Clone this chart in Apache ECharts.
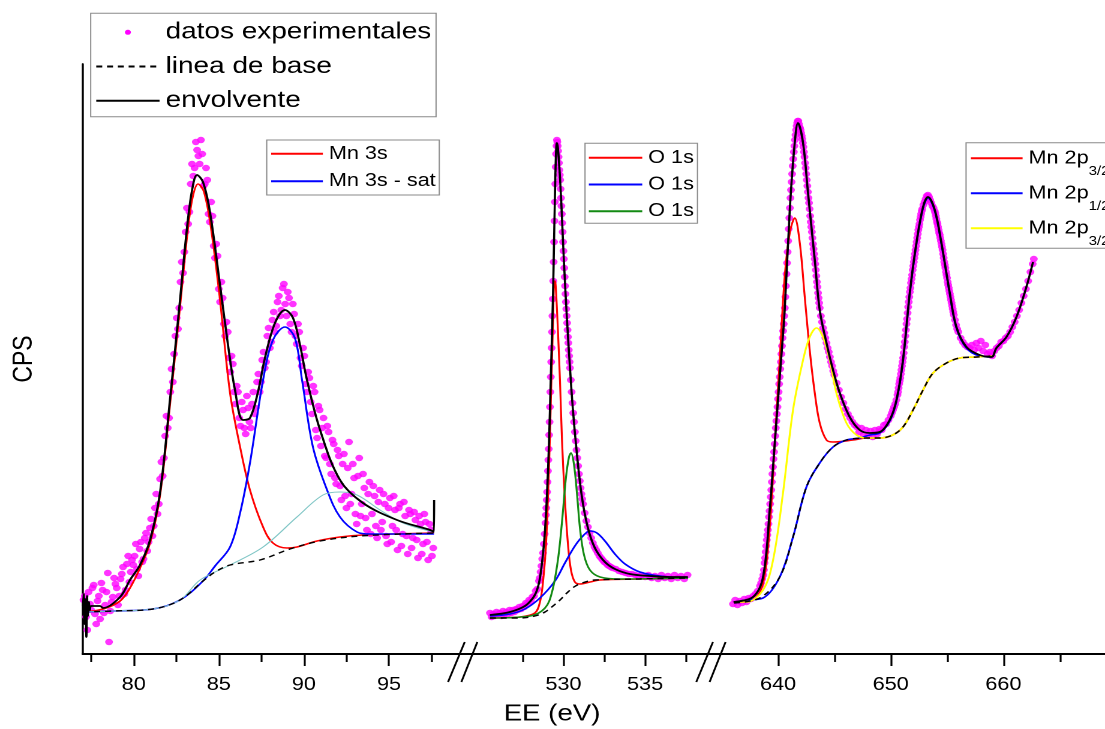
<!DOCTYPE html>
<html>
<head>
<meta charset="utf-8">
<script src="https://cdn.jsdelivr.net/npm/echarts@6/dist/echarts.min.js"></script>
<style>
  html, body { margin: 0; padding: 0; background: #fff; overflow: hidden; }
  /* the figure is laid out on a 921 px wide canvas and shown 1105 px wide */
  #main { width: 921px; height: 729px; transform: scaleX(1.19978); transform-origin: 0 0; }
</style>
</head>
<body>
<div id="main"></div>
<script>
// ---------- Mn 3s region (binding energy eV, counts) ----------
const mn3sExp = [[77.05,54],[77.2,37],[77.35,62],[77.5,44],[77.65,69],[77.8,30],[77.95,58],[78.1,71],[78.25,41],[78.4,62],[78.55,12],[78.7,52],[78.85,76],[79.0,66],[79.15,58],[79.3,80],[79.45,60],[79.6,90],[79.75,72],[79.9,94],[80.05,98],[80.2,85],[80.35,105],[80.5,92],[80.65,116],[80.8,103],[80.95,126],[81.1,118],[81.25,146],[81.4,140],[81.55,175],[81.7,178],[81.85,218],[82.0,226],[82.15,262],[82.3,272],[82.45,318],[82.6,325],[82.75,372],[82.9,381],[83.05,422],[83.2,430],[83.35,470],[83.5,478],[83.65,512],[83.8,498],[83.95,514],[84.1,468],[84.25,486],[84.4,440],[84.55,452],[84.7,408],[84.85,410],[85.0,365],[85.15,372],[85.3,330],[85.45,332],[85.6,296],[85.75,298],[85.9,262],[86.05,268],[86.2,236],[86.35,252],[86.5,226],[86.65,258],[86.8,232],[86.95,250],[87.1,240],[87.25,272],[87.4,262],[87.55,294],[87.7,286],[87.85,318],[88.0,306],[88.15,334],[88.3,322],[88.45,352],[88.6,338],[88.75,366],[88.9,350],[89.05,362],[89.2,330],[89.35,350],[89.5,318],[89.65,330],[89.8,296],[89.95,306],[90.1,270],[90.25,282],[90.4,252],[90.55,268],[90.7,224],[90.85,248],[91.0,208],[91.15,236],[91.3,196],[91.45,222],[91.6,180],[91.75,210],[91.9,170],[92.05,198],[92.2,154],[92.35,200],[92.5,146],[92.65,212],[92.8,160],[92.95,176],[93.1,130],[93.25,196],[93.4,150],[93.55,166],[93.7,124],[93.85,172],[94.0,140],[94.15,158],[94.3,116],[94.45,164],[94.6,132],[94.75,150],[94.9,110],[95.05,156],[95.2,128],[95.35,144],[95.5,104],[95.65,150],[95.8,120],[95.95,138],[96.1,100],[96.25,140],[96.4,116],[96.55,134],[96.7,96],[96.85,130],[97.0,110],[97.15,132],[97.3,94],[97.45,124],[97.6,106]];
const mn3sExpB = [[77.125,58],[77.275,24],[77.425,50],[77.575,66],[77.725,40],[77.875,53],[78.025,35],[78.175,64],[78.325,49],[78.475,81],[78.625,43],[78.775,57],[78.925,70],[79.075,49],[79.225,75],[79.375,87],[79.525,64],[79.675,98],[79.825,82],[79.975,89],[80.125,110],[80.275,78],[80.425,112],[80.575,95],[80.725,121],[80.875,112],[81.025,135],[81.175,128],[81.325,160],[81.475,150],[81.625,192],[81.775,196],[81.925,238],[82.075,236],[82.225,285],[82.375,300],[82.525,336],[82.675,346],[82.825,392],[82.975,402],[83.125,446],[83.275,442],[83.425,490],[83.575,486],[83.725,504],[83.875,490],[84.025,500],[84.175,470],[84.325,474],[84.475,432],[84.625,438],[84.775,396],[84.925,398],[85.075,352],[85.225,356],[85.375,318],[85.525,322],[85.675,282],[85.825,290],[85.975,250],[86.125,262],[86.275,228],[86.425,244],[86.575,220],[86.725,246],[86.875,226],[87.025,262],[87.175,246],[87.325,280],[87.475,272],[87.625,302],[87.775,292],[87.925,326],[88.075,312],[88.225,342],[88.375,328],[88.525,358],[88.675,344],[88.825,370],[88.975,338],[89.125,356],[89.275,322],[89.425,340],[89.575,310],[89.725,322],[89.875,288],[90.025,298],[90.175,262],[90.325,276],[90.475,240],[90.625,262],[90.775,216],[90.925,244],[91.075,226],[91.225,198],[91.375,228],[91.525,190],[91.675,214],[91.825,176],[91.975,204],[92.125,168],[92.275,190],[92.425,158],[92.575,186],[92.725,150],[92.875,190],[93.025,140],[93.175,178],[93.325,138],[93.475,180],[93.625,136],[93.775,160],[93.925,120],[94.075,168],[94.225,128],[94.375,152],[94.525,124],[94.675,160],[94.825,118],[94.975,146],[95.125,112],[95.275,158],[95.425,124],[95.575,146],[95.725,108],[95.875,152],[96.025,118],[96.175,144],[96.325,106],[96.475,142],[96.625,114],[96.775,138],[96.925,100],[97.075,140],[97.225,112],[97.375,130],[97.525,98]];
const mn3sEnvelope = [[77.02,48],[77.06,60],[77.1,30],[77.14,55],[77.18,40],[77.22,17],[77.26,58],[77.3,38],[77.36,52],[77.42,44],[77.5,48],[78.02,48],[78.2,46],[79.2,57],[79.78,74],[80.37,89],[80.96,114],[81.55,162],[82.13,254],[82.72,354],[83.13,426],[83.43,464],[83.72,479],[84.07,472],[84.48,442],[85.07,369],[85.54,309],[85.95,264],[86.42,234],[86.83,236],[87.3,262],[87.71,296],[88.3,331],[88.89,344],[89.36,336],[89.77,309],[90.18,274],[90.95,224],[92.12,174],[93.47,151],[95.47,134],[97.41,124],[97.64,122],[97.65,154]];
const mn3sBase = [[77.05,42],[78.78,43],[81.13,45],[82.72,54],[84.07,73],[84.78,82],[85.66,89],[87.42,94],[89.18,105],[90.95,113],[93.3,118],[97.64,121]];
const mn3sMain = [[77.05,42],[78.2,45],[79.2,53],[79.78,66],[80.37,86],[80.96,111],[81.55,159],[82.13,249],[82.72,347],[83.19,426],[83.48,458],[83.78,470],[84.13,462],[84.54,426],[85.07,354],[85.66,261],[86.25,207],[86.83,164],[87.6,127],[88.18,111],[89.01,106],[89.59,107],[90.77,113],[92.12,117],[93.47,119],[97.64,121]];
const mn3sSat = [[77.05,42],[78.78,43],[81.13,45],[82.72,54],[84.07,73],[84.78,88],[85.66,107],[86.25,141],[86.83,191],[87.6,274],[88.18,314],[88.89,327],[89.47,316],[89.89,274],[90.53,207],[91.36,164],[92.12,137],[93.12,122],[93.88,120],[97.64,120]];
const mn3sSat2 = [[77.05,42],[78.78,43],[81.13,45],[82.72,54],[83.9,74],[85.66,89],[87.6,107],[89.59,137],[91.12,159],[92.12,162],[93.12,159],[94.47,144],[95.82,131],[97.64,122]];

// ---------- O 1s region ----------
const o1sExp = [[525.5,41],[525.6,37],[525.7,40],[525.8,38],[525.9,42],[526.0,39],[526.1,41],[526.2,38],[526.3,43],[526.4,40],[526.5,42],[526.6,40],[526.7,44],[526.8,41],[526.9,44],[527.0,42],[527.1,45],[527.2,44],[527.3,47],[527.4,45],[527.5,48],[527.6,47],[527.7,51],[527.8,50],[527.9,54],[528.0,53],[528.1,57],[528.2,58],[528.3,63],[528.4,65],[528.5,73],[528.55,76],[528.6,82],[528.65,88],[528.7,95],[528.75,101],[528.8,110],[528.85,120],[528.9,131],[528.95,146],[529.0,162],[529.05,183],[529.1,205],[529.15,232],[529.2,262],[529.25,292],[529.3,322],[529.35,355],[529.4,392],[529.45,433],[529.5,470],[529.55,500],[529.6,514],[529.65,508],[529.7,497],[529.75,484],[529.8,474],[529.85,456],[529.9,440],[529.95,422],[530.0,403],[530.05,386],[530.1,368],[530.15,352],[530.2,338],[530.25,324],[530.3,311],[530.35,298],[530.4,286],[530.45,274],[530.5,262],[530.55,251],[530.6,241],[530.65,232],[530.7,222],[530.75,213],[530.8,204],[530.85,196],[530.9,188],[530.95,180],[531.0,173],[531.05,166],[531.1,160],[531.15,155],[531.2,150],[531.3,141],[531.4,133],[531.5,127],[531.6,121],[531.7,116],[531.8,111],[531.9,107],[532.0,104],[532.1,101],[532.2,98],[532.3,96],[532.4,94],[532.5,92],[532.6,91],[532.7,89],[532.8,88],[532.9,87],[533.0,86],[533.2,85],[533.4,83],[533.6,82],[533.8,81],[534.0,80],[534.2,80],[534.4,79],[534.6,78],[534.8,79],[535.0,77],[535.2,79],[535.4,76],[535.6,78],[535.8,75],[536.0,79],[536.2,76],[536.4,78],[536.6,75],[536.8,79],[537.0,76],[537.2,78],[537.4,75],[537.6,79]];
const o1sExpPeak = [[528.925,139],[528.975,154],[529.025,172],[529.075,194],[529.125,219],[529.175,247],[529.225,277],[529.275,306],[529.325,338],[529.375,373],[529.425,412],[529.475,452],[529.525,487],[529.575,508],[529.625,512],[529.675,503],[529.725,491],[529.775,479],[529.825,465],[529.875,448],[529.925,431],[529.975,412],[530.025,395],[530.075,377],[530.125,360],[530.175,345],[530.225,331],[530.275,317],[530.325,304],[530.375,292]];
const o1sEnvelope = [[525.5,39],[526.72,42],[527.64,48],[528.13,56],[528.38,64],[528.56,76],[528.74,99],[528.87,124],[528.99,159],[529.11,209],[529.23,279],[529.36,359],[529.42,409],[529.48,459],[529.54,499],[529.6,511],[529.66,506],[529.79,476],[529.91,436],[530.03,392],[530.21,336],[530.4,286],[530.58,244],[530.83,199],[531.07,164],[531.32,139],[531.62,119],[531.99,104],[532.54,92],[533.15,85],[534.07,80],[535.3,78],[536.52,77],[537.62,77]];
const o1sBase = [[525.5,36],[527.34,36],[528.25,38],[528.87,42],[529.36,48],[529.79,54],[530.21,61],[530.64,67],[531.13,71],[531.93,74],[534.68,75],[537.62,76]];
const o1sLattice = [[525.5,36],[527.34,37],[528.25,41],[528.56,52],[528.74,71],[528.93,109],[529.11,184],[529.23,254],[529.36,332],[529.42,369],[529.48,373],[529.54,364],[529.66,324],[529.79,272],[529.91,214],[530.09,154],[530.28,109],[530.46,84],[530.7,72],[531.01,70],[531.62,72],[532.24,74],[534.68,75],[537.62,76]];
const o1sBroad = [[525.5,38],[526.72,40],[527.64,45],[528.56,56],[529.48,73],[530.09,91],[530.7,108],[531.19,118],[531.62,123],[532.05,121],[532.54,113],[533.15,100],[533.77,90],[534.68,82],[535.91,78],[537.62,76]];
const o1sMid = [[525.5,36],[527.95,38],[528.87,46],[529.3,62],[529.66,94],[529.91,132],[530.15,176],[530.34,197],[530.46,201],[530.64,190],[530.83,160],[531.01,126],[531.26,99],[531.62,84],[532.24,77],[533.46,75],[537.62,76]];

// ---------- Mn 2p region ----------
const mn2pExp = [[636.0,50],[636.2,54],[636.4,49],[636.6,53],[636.8,51],[637.0,55],[637.2,52],[637.4,56],[637.6,55],[637.8,58],[638.0,60],[638.2,63],[638.4,68],[638.5,71],[638.6,75],[638.7,79],[638.8,91],[638.9,102],[639.0,114],[639.1,124],[639.2,137],[639.3,150],[639.4,164],[639.5,180],[639.6,195],[639.7,210],[639.8,226],[639.9,240],[640.0,255],[640.1,270],[640.2,285],[640.3,300],[640.4,316],[640.5,330],[640.6,346],[640.7,368],[640.8,391],[640.9,413],[641.0,436],[641.1,456],[641.2,472],[641.3,488],[641.4,502],[641.5,514],[641.6,524],[641.7,531],[641.8,533],[641.9,527],[642.0,524],[642.1,518],[642.2,511],[642.3,502],[642.4,491],[642.5,480],[642.6,468],[642.7,456],[642.8,445],[642.9,432],[643.0,422],[643.1,410],[643.2,400],[643.3,390],[643.4,378],[643.5,367],[643.6,356],[643.7,346],[643.8,338],[643.9,332],[644.0,326],[644.1,321],[644.2,316],[644.3,311],[644.4,306],[644.5,302],[644.6,297],[644.7,292],[644.8,288],[644.9,283],[645.0,279],[645.2,271],[645.4,264],[645.6,257],[645.8,251],[646.0,245],[646.2,240],[646.4,236],[646.6,232],[646.8,229],[647.0,227],[647.2,222],[647.4,226],[647.6,219],[647.8,224],[648.0,218],[648.2,223],[648.4,217],[648.6,224],[648.8,220],[649.0,225],[649.2,224],[649.4,229],[649.6,230],[649.8,234],[650.0,238],[650.1,241],[650.2,244],[650.3,247],[650.4,250],[650.5,254],[650.6,259],[650.7,266],[650.8,273],[650.9,280],[651.0,288],[651.1,296],[651.2,307],[651.3,318],[651.4,330],[651.5,341],[651.6,352],[651.7,362],[651.8,371],[651.9,379],[652.0,388],[652.1,396],[652.2,404],[652.3,412],[652.4,420],[652.5,427],[652.6,434],[652.7,440],[652.8,445],[652.9,449],[653.0,452],[653.1,455],[653.2,458],[653.3,459],[653.4,457],[653.5,454],[653.6,451],[653.7,448],[653.8,446],[653.9,443],[654.0,438],[654.1,432],[654.2,427],[654.3,421],[654.4,416],[654.5,410],[654.6,404],[654.7,396],[654.8,389],[654.9,382],[655.0,376],[655.1,369],[655.2,363],[655.3,357],[655.4,351],[655.5,345],[655.6,339],[655.7,334],[655.8,329],[655.9,325],[656.0,322],[656.2,316],[656.4,312],[656.6,309],[656.8,307],[657.0,306],[657.2,309],[657.4,304],[657.6,311],[657.8,306],[658.0,313],[658.2,303],[658.4,309],[658.6,300],[658.8,302],[659.0,298],[659.2,303],[659.4,306],[659.6,308],[659.8,312],[660.0,313],[660.2,316],[660.4,318],[660.6,322],[660.8,327],[661.0,332],[661.2,338],[661.4,344],[661.6,351],[661.8,358],[662.0,365],[662.2,373],[662.4,382],[662.6,390],[662.7,395]];
const mn2pExpFlanks = [[638.75,84],[638.85,96],[638.95,108],[639.05,119],[639.15,130],[639.25,143],[639.35,157],[639.45,172],[639.55,187],[639.65,202],[639.75,218],[639.85,233],[639.95,247],[640.05,262],[640.15,277],[640.25,292],[640.35,308],[640.45,323],[640.55,338],[640.65,357],[640.75,380],[640.85,402],[640.95,425],[641.05,446],[641.15,464],[641.25,480],[641.35,495],[641.45,508],[641.55,519],[641.65,528],[641.75,533],[641.85,530],[641.95,526],[642.05,521],[642.15,515],[642.25,507],[642.35,497],[642.45,486],[642.55,474],[642.65,462],[642.75,451],[642.85,438],[642.95,427],[643.05,416],[643.15,405],[643.25,395],[643.35,384],[643.45,372],[643.55,361],[643.65,351],[650.65,262],[650.75,270],[650.85,276],[650.95,284],[651.05,292],[651.15,301],[651.25,312],[651.35,324],[651.45,335],[651.55,347],[651.65,357],[651.75,366],[651.85,375],[651.95,384],[652.05,392],[652.15,400],[652.25,408],[652.35,416],[652.45,424],[652.55,430],[652.65,437],[652.75,443],[653.95,441],[654.05,435],[654.15,430],[654.25,424],[654.35,419],[654.45,413],[654.55,407],[654.65,400],[654.75,392],[654.85,386],[654.95,379],[655.05,372],[655.15,366],[655.25,360],[655.35,354],[655.45,348],[655.55,342]];
const mn2pEnvelope = [[636.05,52],[637.78,57],[638.67,77],[639.26,144],[639.71,211],[640.15,277],[640.59,344],[641.04,444],[641.48,511],[641.77,531],[642.22,511],[642.66,461],[643.26,394],[643.7,344],[644.3,311],[644.88,284],[645.48,261],[646.36,237],[647.25,224],[648.14,221],[649.03,222],[649.91,234],[650.51,254],[651.09,294],[651.69,361],[652.28,411],[652.87,447],[653.31,457],[653.91,444],[654.5,411],[655.24,361],[655.83,327],[656.72,307],[657.9,299],[658.94,297],[659.38,306],[660.27,317],[661.16,337],[662.04,367],[662.63,392]];
const mn2pBase = [[636.1,51],[638.38,56],[640.15,77],[641.33,117],[642.52,167],[643.7,191],[644.88,207],[646.07,214],[647.85,216],[649.03,216],[650.18,219],[651.09,227],[651.98,244],[652.87,264],[653.76,281],[654.95,291],[656.13,296],[657.61,297],[658.94,298]];
const mn2p32Main = [[636.6,52],[637.78,54],[638.67,71],[639.26,127],[639.71,211],[640.15,294],[640.59,377],[641.04,421],[641.48,436],[641.93,411],[642.37,357],[642.81,304],[643.26,261],[643.7,231],[644.3,214],[644.88,212],[646.66,214],[647.85,216],[649.03,216],[650.18,219],[651.09,227],[651.98,244],[652.87,264],[653.76,281],[654.95,291],[656.13,296],[657.61,297],[658.94,298]];
const mn2p12 = [[636.6,53],[637.2,54],[638.67,56],[640.15,77],[641.33,117],[642.52,167],[643.7,191],[644.88,207],[646.07,214],[647.25,216],[648.14,219],[649.03,221],[649.91,233],[650.51,253],[651.09,293],[651.69,360],[652.28,410],[652.87,446],[653.31,456],[653.91,443],[654.5,410],[655.24,360],[655.83,326],[656.72,306],[657.9,298],[658.94,297]];
const mn2p32Sat = [[636.6,52],[637.2,52],[638.67,64],[639.56,94],[640.44,161],[641.33,244],[642.22,294],[642.81,317],[643.41,326],[643.99,317],[644.59,294],[645.18,261],[646.07,231],[646.96,219],[647.85,216],[649.03,216],[650.18,219],[651.09,227],[651.98,244],[652.87,264],[653.76,281],[654.95,291],[656.13,296],[657.61,297],[658.94,298]];

// ---------- axis ticks ----------
const mn3sMajor = [80, 85, 90, 95];
const mn3sMinor = [77.5, 82.5, 87.5, 92.5, 97.5];
const o1sMajor = [530, 535];
const o1sMinor = [527.5, 532.5, 537.5];
const mn2pMajor = [640, 650, 660];
const mn2pMinor = [645, 655, 665];
const ranges = [[77, 99.3], [523.8, 539.0], [634, 669]];
const cpsMax = 590;

// ---------- layout ----------
const FONT = '"Liberation Sans", Arial, sans-serif';
const plotTop = 64, plotHeight = 590;
const gridBoxes = [
  { left: 68.88, width: 316.35 },
  { left: 385.23, width: 206.9 },
  { left: 592.13, width: 328.7 }
];
const RED = '#ff0000', BLUE = '#0000ff', GREEN = '#138a13', YELLOW = '#ffff00', TEAL = '#7fc6c6', MAGENTA = '#ff00ff';

const chart = echarts.init(document.getElementById('main'), null, { renderer: 'canvas', devicePixelRatio: 2 });

const grids = gridBoxes.map(b => ({ left: b.left, top: plotTop, width: b.width, height: plotHeight }));

function axisPair(gi, major, minor) {
  const [mn, mx] = ranges[gi];
  return [
    {
      type: 'value', gridIndex: gi, min: mn, max: mx, position: 'bottom',
      axisLine: { show: true, onZero: false, lineStyle: { color: '#000', width: 2 } },
      axisTick: { show: true, customValues: major, length: 12, lineStyle: { color: '#000', width: 1.6 } },
      axisLabel: { show: true, customValues: major, margin: 22, color: '#000', fontSize: 18, fontFamily: FONT },
      splitLine: { show: false }
    },
    {
      type: 'value', gridIndex: gi, min: mn, max: mx, position: 'bottom',
      axisLine: { show: false },
      axisTick: { show: true, customValues: minor, length: 8, lineStyle: { color: '#000', width: 1.6 } },
      axisLabel: { show: false },
      splitLine: { show: false }
    }
  ];
}

const xAxes = [].concat(axisPair(0, mn3sMajor, mn3sMinor), axisPair(1, o1sMajor, o1sMinor), axisPair(2, mn2pMajor, mn2pMinor));

const yAxes = [0, 1, 2].map(gi => ({
  type: 'value', gridIndex: gi, min: 0, max: cpsMax,
  show: gi === 0,
  axisLine: { show: gi === 0, lineStyle: { color: '#000', width: 1.7 } },
  axisTick: { show: false }, axisLabel: { show: false }, splitLine: { show: false },
  name: gi === 0 ? 'CPS' : '', nameLocation: 'middle', nameGap: 37,
  nameTextStyle: { color: '#000', fontSize: 23, fontFamily: FONT }
}));

function dots(gi, data) {
  return { name: 'datos experimentales', type: 'scatter', xAxisIndex: gi * 2, yAxisIndex: gi, data,
    symbol: 'circle', symbolSize: 6.5, itemStyle: { color: MAGENTA }, silent: true, z: 2 };
}
function curve(name, gi, data, color, width, extra) {
  return Object.assign({ name, type: 'line', xAxisIndex: gi * 2, yAxisIndex: gi, data,
    symbol: 'none', smooth: 0.35, lineStyle: { color, width }, itemStyle: { color }, silent: true, z: 3 }, extra || {});
}
function baseCurve(gi, data) {
  return curve('linea de base', gi, data, '#000', 1.4, { lineStyle: { color: '#000', width: 1.4, type: [5, 4] }, z: 4 });
}
function envelope(gi, data) {
  return curve('envolvente', gi, data, '#000', 1.8, { z: 5 });
}

const series = [
  dots(0, mn3sExp.concat(mn3sExpB)),
  curve('Mn 3s', 0, mn3sMain, RED, 1.6),
  curve('Mn 3s - sat', 0, mn3sSat, BLUE, 1.6),
  curve('Mn 3s - sat 2', 0, mn3sSat2, TEAL, 1),
  baseCurve(0, mn3sBase),
  envelope(0, mn3sEnvelope),

  dots(1, o1sExp.concat(o1sExpPeak)),
  curve('O 1s (1)', 1, o1sLattice, RED, 1.6),
  curve('O 1s (2)', 1, o1sBroad, BLUE, 1.6),
  curve('O 1s (3)', 1, o1sMid, GREEN, 1.6),
  baseCurve(1, o1sBase),
  envelope(1, o1sEnvelope),

  dots(2, mn2pExp.concat(mn2pExpFlanks)),
  curve('Mn 2p3/2 (1)', 2, mn2p32Main, RED, 1.6),
  curve('Mn 2p1/2', 2, mn2p12, BLUE, 1.6),
  curve('Mn 2p3/2 (2)', 2, mn2p32Sat, YELLOW, 1.6),
  baseCurve(2, mn2pBase),
  envelope(2, mn2pEnvelope)
];

// line entries in the legends show only the stroke (no marker in the middle)
const legendText = { color: '#000', fontFamily: FONT };
const hideMarker = { opacity: 0 };
const legends = [
  {
    orient: 'vertical', left: 75.6, top: 13.3, padding: [7, 4, 4, 3.6],
    itemWidth: 52.8, itemHeight: 5, itemGap: 10.2, selectedMode: false,
    borderColor: '#8a8a8a', borderWidth: 1, itemStyle: hideMarker,
    textStyle: Object.assign({ fontSize: 23.3, lineHeight: 24 }, legendText),
    data: [{ name: 'datos experimentales', icon: 'circle', itemStyle: { opacity: 1, color: MAGENTA } }, 'linea de base', 'envolvente']
  },
  {
    orient: 'vertical', left: 222.3, top: 140, padding: [4.3, 3, 4.3, 2.7],
    itemWidth: 43.1, itemHeight: 5, itemGap: 8.4, selectedMode: false,
    borderColor: '#8a8a8a', borderWidth: 1, itemStyle: hideMarker,
    textStyle: Object.assign({ fontSize: 18, lineHeight: 19 }, legendText),
    data: ['Mn 3s', 'Mn 3s - sat']
  },
  {
    orient: 'vertical', left: 487.6, top: 143.3, padding: [5, 3, 2.5, 2.2],
    itemWidth: 44.5, itemHeight: 5, itemGap: 7.7, selectedMode: false,
    borderColor: '#8a8a8a', borderWidth: 1, itemStyle: hideMarker,
    textStyle: Object.assign({ fontSize: 18, lineHeight: 19 }, legendText),
    formatter: name => name.replace(/ \(\d\)$/, ''),
    data: ['O 1s (1)', 'O 1s (2)', 'O 1s (3)']
  },
  {
    orient: 'vertical', left: 805.2, top: 142.7, padding: [-3.9, 3, 0.5, 3],
    itemWidth: 43.1, itemHeight: 5, itemGap: -4, selectedMode: false,
    borderColor: '#8a8a8a', borderWidth: 1, itemStyle: hideMarker,
    textStyle: Object.assign({
      fontSize: 18, lineHeight: 22,
      rich: {
        m: { fontSize: 18, lineHeight: 22, color: '#000', fontFamily: FONT },
        s: { fontSize: 12.5, lineHeight: 12, padding: [26, 0, 0, 0], color: '#000', fontFamily: FONT }
      }
    }, legendText),
    formatter: name => {
      const m = name.match(/^Mn 2p(\d\/\d)/);
      return m ? '{m|Mn 2p}{s|' + m[1] + '}' : name;
    },
    data: ['Mn 2p3/2 (1)', 'Mn 2p1/2', 'Mn 2p3/2 (2)']
  }
];

// axis-break marks at the joins between the three energy windows
function breakMarks(cx) {
  const st = { stroke: '#000', lineWidth: 1.6 };
  return [
    { type: 'line', silent: true, shape: { x1: cx - 11.8, y1: 682, x2: cx + 2.1, y2: 642 }, style: st },
    { type: 'line', silent: true, shape: { x1: cx - 0.7, y1: 682, x2: cx + 12.6, y2: 642 }, style: st }
  ];
}
const graphics = [].concat(
  breakMarks(gridBoxes[1].left),
  breakMarks(gridBoxes[2].left),
  [{ type: 'text', silent: true, x: 460.1, y: 714,
     style: { text: 'EE (eV)', fill: '#000', fontSize: 23, fontFamily: FONT, align: 'center', verticalAlign: 'middle' } }]
);

chart.setOption({
  animation: false,
  backgroundColor: '#ffffff',
  grid: grids,
  xAxis: xAxes,
  yAxis: yAxes,
  legend: legends,
  series,
  graphic: graphics
});
</script>
</body>
</html>
